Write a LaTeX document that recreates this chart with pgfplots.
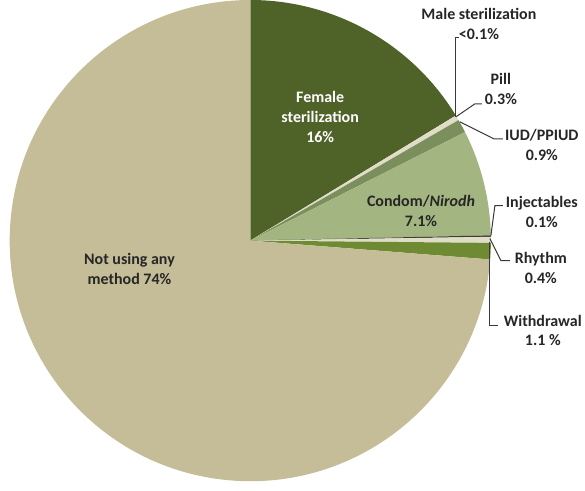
\documentclass[border=0pt]{standalone}
\usepackage{fontspec}
\setmainfont{Carlito}
\usepackage{pgfplots}
\pgfplotsset{compat=1.18}

\definecolor{cFem}{HTML}{4F6228}
\definecolor{cCream}{HTML}{E0DCC8}
\definecolor{cIUD}{HTML}{7B8F5C}
\definecolor{cCondom}{HTML}{A3B580}
\definecolor{cInj}{HTML}{3A3F2A}
\definecolor{cWith}{HTML}{6E8B33}
\definecolor{cNot}{HTML}{C4BD97}
\definecolor{cTxt}{HTML}{262626}
\definecolor{cLead}{HTML}{3A3A3A}

% pie geometry (axis units = pt)
\def\cx{252}
\def\cy{242}
\def\rad{241}
\def\pieangle{90}

% one wedge, clockwise from the current angle, value in percent
\newcommand\slice[2]{%
  \pgfmathsetmacro\endangle{\pieangle-3.6*#1}%
  \edef\doslice{\noexpand\fill[#2] (axis cs:\cx,\cy) -- ([shift={(\pieangle:\rad pt)}]axis cs:\cx,\cy)
    arc[start angle=\pieangle, end angle=\endangle, radius=\rad pt] -- cycle;}%
  \doslice
  \xdef\pieangle{\endangle}}
% last wedge closes the circle
\newcommand\lastslice[2]{%
  \edef\doslice{\noexpand\fill[#2] (axis cs:\cx,\cy) -- ([shift={(\pieangle:\rad pt)}]axis cs:\cx,\cy)
    arc[start angle=\pieangle, end angle=-270, radius=\rad pt] -- cycle;}%
  \doslice}

\begin{document}
\begin{tikzpicture}
\begin{axis}[
  scale only axis,
  width=585pt, height=494pt,
  xmin=0, xmax=585, ymin=0, ymax=494,
  hide axis,
  clip=false,
]
\slice{16.3}{cFem}     % Female sterilization
\slice{0.05}{cCream}   % Male sterilization
\slice{0.3}{cCream}    % Pill
\slice{0.9}{cIUD}      % IUD/PPIUD
\slice{7.1}{cCondom}   % Condom/Nirodh
\slice{0.1}{cInj}      % Injectables
\slice{0.4}{cCream}    % Rhythm
\slice{1.1}{cWith}     % Withdrawal
\lastslice{74}{cNot}   % Not using any method

\begin{scope}[font=\fontsize{16}{20}\selectfont\bfseries, align=center]
\node[white] at (axis cs:322,366) {Female\\sterilization\\16\%};
\node[cTxt] at (axis cs:423,272) {Condom/\textit{Nirodh}\\7.1\%};
\node[cTxt] at (axis cs:131,214) {Not using any\\method 74\%};
\node[cTxt] at (axis cs:481,459) {Male sterilization\\<0.1\%};
\node[cTxt] at (axis cs:503,394) {Pill\\0.3\%};
\node[cTxt] at (axis cs:544,338) {IUD/PPIUD\\0.9\%};
\node[cTxt] at (axis cs:544,271) {Injectables\\0.1\%};
\node[cTxt] at (axis cs:543,215) {Rhythm\\0.4\%};
\node[cTxt] at (axis cs:545,152) {Withdrawal\\1.1 \%};
\end{scope}

\begin{scope}[draw=cLead, line width=1pt]
\draw (axis cs:458,366) -- (axis cs:458,445) -- (axis cs:461,445);
\draw (axis cs:458,366) -- (axis cs:477,379) -- (axis cs:484,379);
\draw (axis cs:462,361) -- (axis cs:496,344) -- (axis cs:505,344);
\draw (axis cs:493,247) -- (axis cs:497,277) -- (axis cs:505,277);
\draw (axis cs:492,244) -- (axis cs:503,222) -- (axis cs:512,222);
\draw (axis cs:492,241) -- (axis cs:492,157) -- (axis cs:500,157);
\end{scope}
\end{axis}
\end{tikzpicture}
\end{document}
